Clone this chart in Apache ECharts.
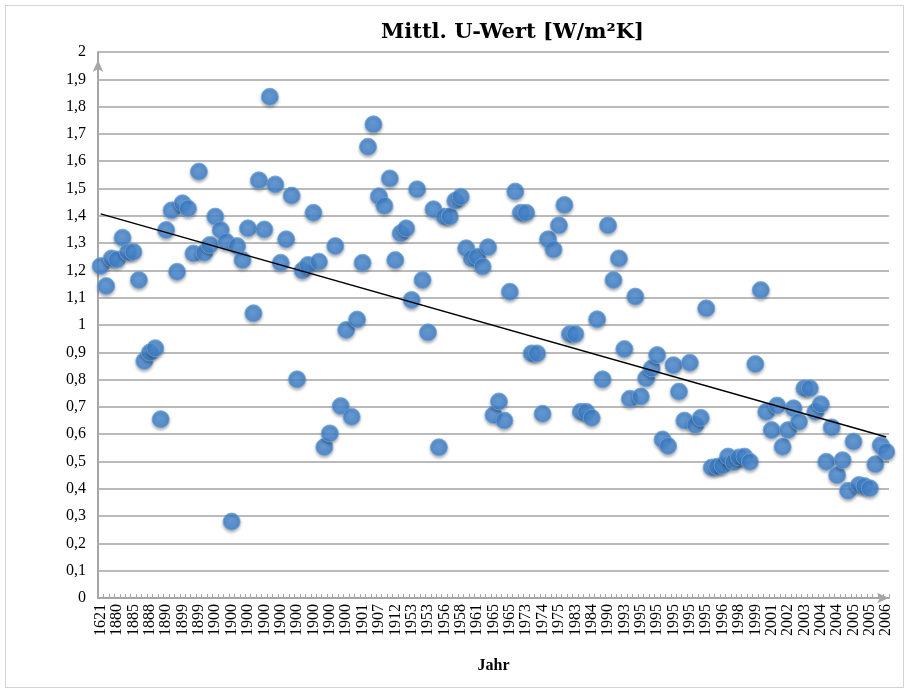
<!DOCTYPE html>
<html>
<head>
<meta charset="utf-8">
<script src="https://cdn.jsdelivr.net/npm/echarts@6/dist/echarts.min.js"></script>
<style>
  html, body { margin: 0; padding: 0; background: #fff; }
  #chart { position: absolute; left: 0; top: 0; width: 907px; height: 691px; }
  .frame { position: absolute; left: 5px; top: 5px; width: 897px; height: 681px; border: 1px solid #d4d4d4; pointer-events: none; }
</style>
</head>
<body>
<div id="chart"></div>
<div class="frame"></div>
<script>
// Jahr (Kategorien) - nur jede dritte ist beschriftet
var years = [
  "1621","1850","1875","1880","1882","1884","1885","1886","1887","1888",
  "1889","1889","1890","1895","1898","1899","1899","1899","1899","1899",
  "1900","1900","1900","1900","1900","1900","1900","1900","1900","1900",
  "1900","1900","1900","1900","1900","1900","1900","1900","1900","1900",
  "1900","1900","1900","1900","1900","1900","1900","1900","1901","1903",
  "1905","1907","1909","1910","1912","1930","1950","1953","1953","1953",
  "1953","1954","1955","1956","1957","1957","1958","1959","1960","1961",
  "1962","1964","1965","1965","1965","1965","1968","1970","1973","1973",
  "1974","1974","1974","1975","1975","1978","1980","1983","1983","1984",
  "1984","1986","1988","1990","1991","1992","1993","1994","1995","1995",
  "1995","1995","1995","1995","1995","1995","1995","1995","1995","1995",
  "1995","1995","1995","1995","1996","1997","1997","1998","1998","1999",
  "1999","2000","2000","2001","2001","2002","2002","2002","2003","2003",
  "2003","2004","2004","2004","2004","2004","2004","2005","2005","2005",
  "2005","2005","2005","2006","2006"
];

// Mittl. U-Wert [W/m²K]
var uWert = [
  1.216, 1.143, 1.244, 1.24, 1.32, 1.266, 1.268, 1.165, 0.868, 0.899,
  0.915, 0.655, 1.348, 1.42, 1.195, 1.446, 1.427, 1.262, 1.562, 1.265,
  1.293, 1.397, 1.348, 1.305, 0.28, 1.289, 1.238, 1.354, 1.043, 1.53,
  1.35, 1.836, 1.515, 1.228, 1.314, 1.474, 0.801, 1.2, 1.22, 1.411,
  1.232, 0.553, 0.603, 1.289, 0.703, 0.982, 0.664, 1.02, 1.228, 1.653,
  1.735, 1.472, 1.437, 1.537, 1.238, 1.336, 1.354, 1.092, 1.497, 1.165,
  0.973, 1.424, 0.552, 1.397, 1.397, 1.455, 1.47, 1.281, 1.244, 1.25,
  1.214, 1.285, 0.67, 0.72, 0.65, 1.122, 1.489, 1.411, 1.411, 0.896,
  0.896, 0.675, 1.314, 1.277, 1.365, 1.44, 0.967, 0.967, 0.682, 0.682,
  0.66, 1.021, 0.801, 1.365, 1.165, 1.244, 0.912, 0.73, 1.104, 0.738,
  0.805, 0.841, 0.89, 0.581, 0.557, 0.853, 0.756, 0.65, 0.862, 0.634,
  0.66, 1.061, 0.478, 0.481, 0.485, 0.518, 0.497, 0.515, 0.518, 0.499,
  0.857, 1.128, 0.682, 0.615, 0.705, 0.554, 0.615, 0.695, 0.646, 0.768,
  0.768, 0.682, 0.71, 0.499, 0.625, 0.45, 0.505, 0.393, 0.573, 0.414,
  0.41, 0.402, 0.49, 0.56, 0.536
];

// lineare Trendlinie: Wert am Anfang und am Ende
var trendStart = 1.407;
var trendEnd = 0.59;

var trend = years.map(function () { return null; });
trend[0] = trendStart;
trend[trend.length - 1] = trendEnd;

var serif = "'Liberation Serif', 'DejaVu Serif', serif";

var chart = echarts.init(document.getElementById("chart"));
chart.setOption({
  animation: false,
  backgroundColor: "#fff",
  title: {
    text: "Mittl. U-Wert [W/m²K]",
    left: 376,
    top: 17,
    textStyle: {
      fontFamily: "'DejaVu Serif', serif",
      fontWeight: "bold",
      fontSize: 21,
      color: "#000"
    }
  },
  grid: {
    left: 98,
    right: 18,
    top: 52,
    bottom: 93,
    containLabel: false
  },
  xAxis: {
    type: "category",
    data: years,
    boundaryGap: true,
    name: "Jahr",
    nameLocation: "middle",
    nameGap: 60,
    nameTextStyle: {
      fontFamily: serif,
      fontWeight: "bold",
      fontSize: 16,
      color: "#000"
    },
    axisLine: {
      show: true,
      symbol: ["none", "arrow"],
      symbolSize: [8, 12],
      lineStyle: { color: "#a6a6a6", width: 2 }
    },
    axisTick: {
      show: true,
      inside: true,
      interval: 0,
      length: 4,
      lineStyle: { color: "#a6a6a6", width: 1 }
    },
    axisLabel: {
      interval: 2,
      rotate: 90,
      margin: 6,
      fontFamily: serif,
      fontSize: 16,
      color: "#000"
    },
    splitLine: { show: false }
  },
  yAxis: {
    type: "value",
    min: 0,
    max: 2,
    interval: 0.1,
    axisLine: {
      show: true,
      symbol: ["none", "arrow"],
      symbolSize: [8, 12],
      symbolOffset: [0, -8],
      lineStyle: { color: "#a6a6a6", width: 2 }
    },
    axisTick: { show: false },
    axisLabel: {
      margin: 12,
      fontFamily: serif,
      fontSize: 16,
      color: "#000",
      formatter: function (v) {
        return (Math.round(v * 10) / 10).toString().replace(".", ",");
      }
    },
    splitLine: {
      show: true,
      lineStyle: { color: "#a3a3a3", width: 1.5 }
    }
  },
  series: [
    {
      name: "U-Wert",
      type: "scatter",
      data: uWert,
      symbol: "circle",
      symbolSize: 17,
      itemStyle: {
        color: new echarts.graphic.RadialGradient(0.45, 0.4, 0.6, [
          { offset: 0, color: "#4d90d8" },
          { offset: 1, color: "#3a7bc8" }
        ]),
        borderColor: "#6aa6e2",
        borderWidth: 1,
        shadowBlur: 3,
        shadowOffsetY: 2,
        shadowColor: "rgba(0,0,0,0.35)"
      },
      z: 2
    },
    {
      name: "Trend",
      type: "line",
      data: trend,
      connectNulls: true,
      symbol: "none",
      lineStyle: { color: "#000", width: 1.5 },
      z: 3
    }
  ]
});
</script>
</body>
</html>
